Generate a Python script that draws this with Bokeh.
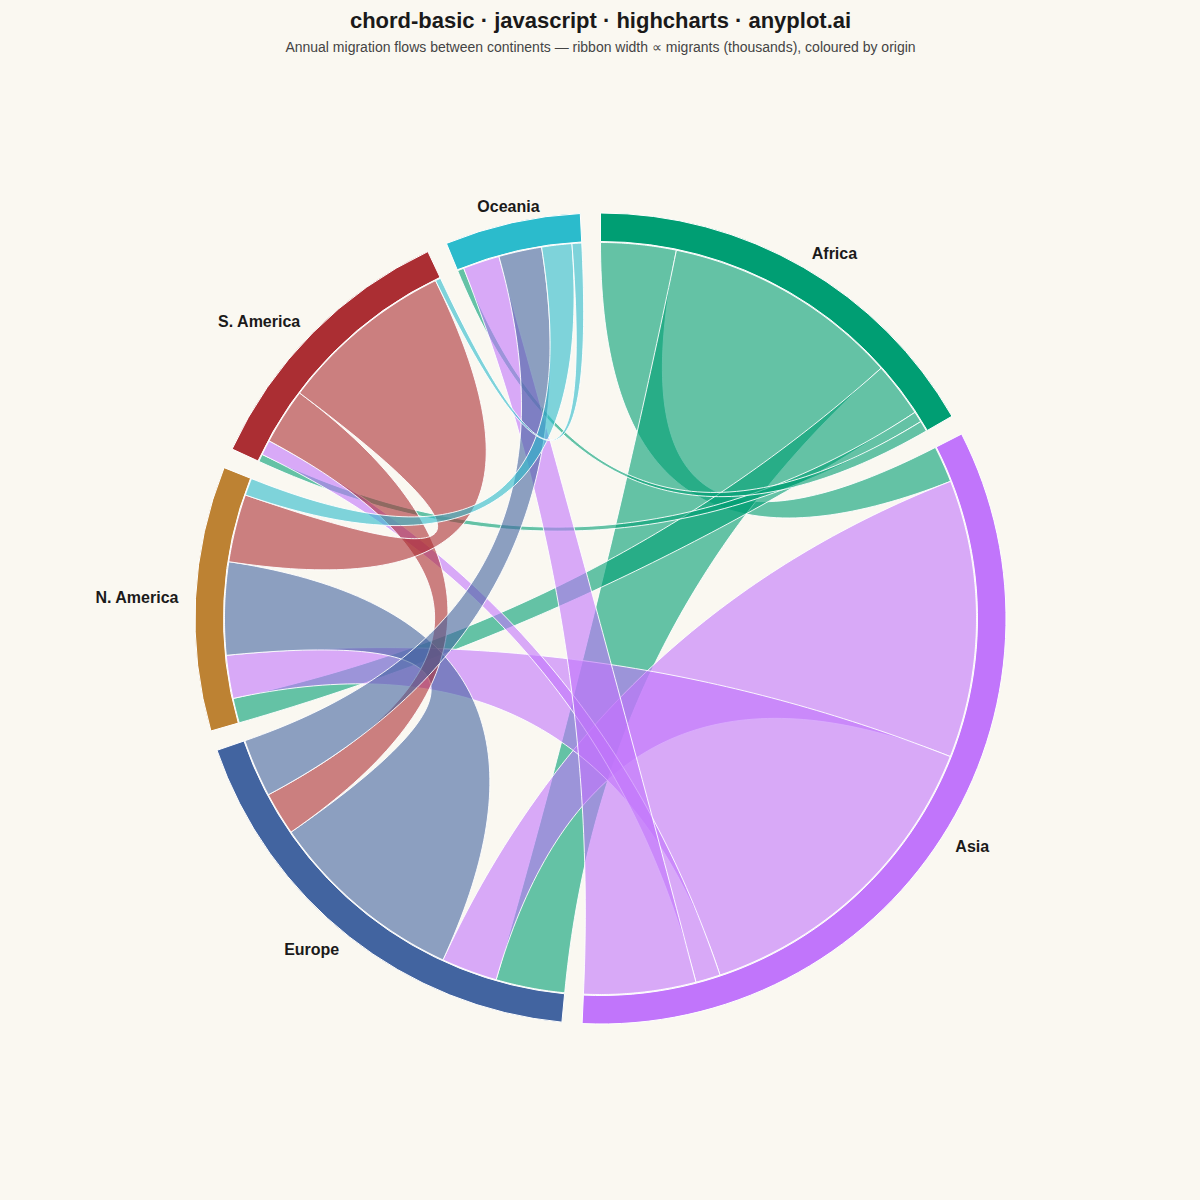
import numpy as np
from bokeh.plotting import figure
from bokeh.models import Range1d, GlobalInlineStyleSheet
from bokeh.embed import file_html
from bokeh.resources import INLINE
from bokeh.core.properties import value

# ---------------- data ----------------
continents = ["Africa", "Asia", "Europe", "N. America", "S. America", "Oceania"]
node_colors = ["#009E73", "#C175FB", "#4264A0", "#BD8233", "#AB2E33", "#2BBBCC"]
# annual migrants (thousands) from each origin to
# [Africa, Asia, Europe, N. America, S. America, Oceania]
from_africa = [0, 350, 1100, 255, 50, 50]
from_asia = [170, 0, 1290, 1500, 115, 520]
from_europe = [320, 260, 0, 920, 200, 270]
from_n_america = [115, 200, 430, 0, 315, 80]
from_s_america = [35, 70, 260, 815, 0, 25]
from_oceania = [30, 170, 200, 140, 45, 0]

title_text = "chord-basic · javascript · highcharts · anyplot.ai"
subtitle_text = ("Annual migration flows between continents — ribbon width \u221d "
                 "migrants (thousands), coloured by origin")

matrix = [from_africa, from_asia, from_europe, from_n_america, from_s_america, from_oceania]

# ---------------- layout ----------------
BG = "#FAF8F1"
H = 1200.0
CX, CY = 600.0, H - 618.0        # data coords (y up)
R_RIB = 376.0
R_IN, R_OUT = 377.0, 405.5
R_LABEL = 422.0
PAD = np.deg2rad(2.86)

n = len(continents)
total = float(sum(sum(r) for r in matrix))
k = (2 * np.pi - PAD * n) / total

# chord layout (angles clockwise from 12 o'clock)
groups = []
sub = {}
x = 0.0
for i in range(n):
    x0 = x
    for j in range(n):
        w = matrix[i][j] * k
        sub[(i, j)] = (x, x + w, matrix[i][j])
        x += w
    groups.append((x0, x))
    x += PAD

chords = []
for i in range(n):
    for j in range(i, n):
        s, t = sub[(i, j)], sub[(j, i)]
        if s[2] or t[2]:
            if s[2] < t[2]:
                chords.append((j, t, s))
            else:
                chords.append((i, s, t))


def pt(theta, r):
    return CX + r * np.sin(theta), CY + r * np.cos(theta)


def arc_pts(a0, a1, r):
    m = max(3, int(np.degrees(abs(a1 - a0)) * 3))
    th = np.linspace(a0, a1, m)
    return list(CX + r * np.sin(th)), list(CY + r * np.cos(th))


def quad_pts(p0, p2):
    t = np.linspace(0, 1, 80)
    xs = (1 - t) ** 2 * (p0[0] - CX) + t ** 2 * (p2[0] - CX) + CX
    ys = (1 - t) ** 2 * (p0[1] - CY) + t ** 2 * (p2[1] - CY) + CY
    return list(xs), list(ys)


rib_xs, rib_ys, rib_cols = [], [], []
for src, s, t in chords:
    xs, ys = [], []
    ax, ay = arc_pts(s[0], s[1], R_RIB)
    xs += ax; ys += ay
    qx, qy = quad_pts(pt(s[1], R_RIB), pt(t[0], R_RIB))
    xs += qx; ys += qy
    ax, ay = arc_pts(t[0], t[1], R_RIB)
    xs += ax; ys += ay
    qx, qy = quad_pts(pt(t[1], R_RIB), pt(s[0], R_RIB))
    xs += qx; ys += qy
    rib_xs.append(xs); rib_ys.append(ys); rib_cols.append(node_colors[src])

p = figure(width=1184, height=1184, x_range=Range1d(0, 1184), y_range=Range1d(H - 1184, H),
           output_backend="svg", toolbar_location=None, min_border=0,
           background_fill_color=BG, border_fill_color=BG, outline_line_color=None)
p.axis.visible = False
p.grid.grid_line_color = None
p.stylesheets = [GlobalInlineStyleSheet(css="html, body { background-color: #FAF8F1; }")]

p.patches(rib_xs, rib_ys, fill_color=rib_cols, fill_alpha=0.6,
          line_color="white", line_width=1, line_alpha=0.9)

# node arcs
starts = [np.pi / 2 - g[1] for g in groups]
ends = [np.pi / 2 - g[0] for g in groups]
p.annular_wedge(x=[CX] * n, y=[CY] * n, inner_radius=R_IN, outer_radius=R_OUT,
                start_angle=starts, end_angle=ends, fill_color=node_colors,
                line_color="white", line_width=1)

# labels
groups_by_align = {"left": ([], [], []), "right": ([], [], []), "center": ([], [], [])}
for i, (g0, g1) in enumerate(groups):
    mid = (g0 + g1) / 2
    lx, ly = pt(mid, R_LABEL)
    sn = np.sin(mid)
    al = "center" if abs(sn) < 0.3 else ("left" if sn > 0 else "right")
    groups_by_align[al][0].append(lx)
    groups_by_align[al][1].append(ly)
    groups_by_align[al][2].append(continents[i])
for al, (lx, ly, tx) in groups_by_align.items():
    if tx:
        p.text(x=lx, y=ly, text=tx, text_align=al, text_baseline="middle",
               text_font=value("Liberation Sans"), text_font_style="bold",
               text_font_size="16px", text_color="#1A1A1A")

p.text(x=[600], y=[H - 20], text=[title_text], text_align="center", text_baseline="middle",
       text_font=value("Liberation Sans"), text_font_style="bold", text_font_size="22px",
       text_color="#1A1A1A")
p.text(x=[600], y=[H - 46], text=[subtitle_text], text_align="center", text_baseline="middle",
       text_font=value("Liberation Sans"), text_font_size="14px", text_color="#444444")

open("out.html", "w").write(file_html(p, INLINE))
